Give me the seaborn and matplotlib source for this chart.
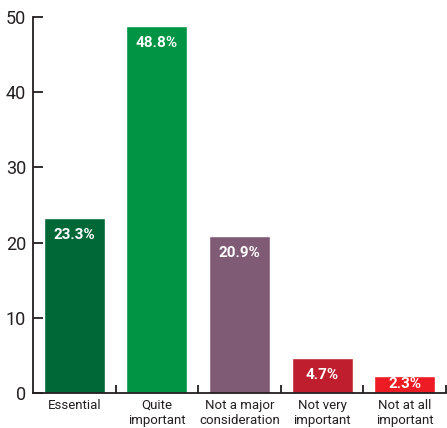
import matplotlib
matplotlib.use("Agg")
import matplotlib.pyplot as plt
import seaborn as sns
import pandas as pd
import numpy as np

categories = ["Essential", "Quite\nimportant", "Not a major\nconsideration", "Not very\nimportant", "Not at all\nimportant"]
values = [23.3, 48.8, 20.9, 4.7, 2.3]
labels = ["23.3%", "48.8%", "20.9%", "4.7%", "2.3%"]
colors = ["#006837", "#009444", "#805b76", "#be1e2d", "#ed1c24"]
yticks = [0, 10, 20, 30, 40, 50]

sns.set_style("white")
plt.rcParams['font.family'] = ['Roboto', 'DejaVu Sans']

df = pd.DataFrame({"cat": categories, "val": values})
fig = plt.figure(figsize=(4.47, 4.28), dpi=100)
ax = fig.add_axes([33/447, 1-393/428, (446-33)/447, (393-17)/428])
sns.barplot(data=df, x="cat", y="val", hue="cat", palette=colors, width=0.74,
            saturation=1, legend=False, ax=ax)
ax.set_xlim(-0.5, len(categories)-0.5)
ax.set_ylim(0, 50)
ax.set_yticks(yticks)
ax.set_xlabel("")
ax.set_ylabel("")
for s in ["top", "right"]:
    ax.spines[s].set_visible(False)
for s in ["left", "bottom"]:
    ax.spines[s].set_color("#231f20")
    ax.spines[s].set_linewidth(1.3)
ax.tick_params(axis="y", left=True, direction="in", length=7.5, width=1.3, color="#231f20",
               labelsize=13, labelcolor="#231f20", pad=5)
ax.tick_params(axis="x", which="major", bottom=True, length=0, labelsize=9.5, labelcolor="#231f20", pad=4)
ax.set_xticks(np.arange(len(categories)) + 0.5, minor=True)
ax.tick_params(axis="x", which="minor", bottom=True, direction="in", length=6, width=1.3, color="#231f20")
for i, (v, l) in enumerate(zip(values, labels)):
    ax.text(i, max(v - 2.3, v / 2), l, ha="center", va="center", color="white",
            fontsize=11, fontweight="bold")
fig.savefig("out.png", dpi=100)
